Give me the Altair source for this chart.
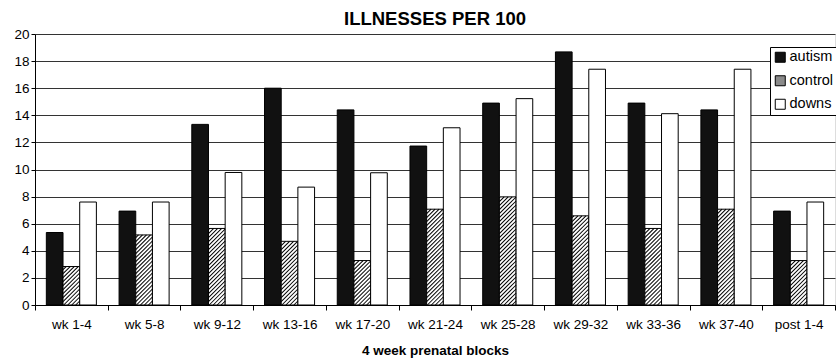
import altair as alt
import pandas as pd

blocks = ["wk 1-4", "wk 5-8", "wk 9-12", "wk 13-16", "wk 17-20", "wk 21-24",
          "wk 25-28", "wk 29-32", "wk 33-36", "wk 37-40", "post 1-4"]
series = ["autism", "control", "downs"]
autism = [5.35, 6.93, 13.33, 16.0, 14.4, 11.73, 14.9, 18.68, 14.9, 14.4, 6.93]
control = [2.84, 5.17, 5.65, 4.7, 3.28, 7.07, 7.98, 6.58, 5.65, 7.07, 3.28]
downs = [7.6, 7.6, 9.78, 8.7, 9.76, 13.08, 15.23, 17.4, 14.12, 17.4, 7.6]

FONT = "Liberation Sans"
W, H = 800, 271
PAD_OUT = 0.68
YMAX = 20
step = W / len(blocks)
bw = step / (3 + 2 * PAD_OUT)
ctrl_left = bw * (PAD_OUT + 1)
ctrl_right = bw * (PAD_OUT + 2)

rows = []
for i, b in enumerate(blocks):
    for s, vals in zip(series, [autism, control, downs]):
        rows.append({"block": b, "series": s, "group": s, "value": vals[i]})
df = pd.DataFrame(rows)

# diagonal hatch lines for the control bars, clipped to each bar's value
units_per_px = YMAX / H
dv = bw * units_per_px
spacing = 4.0 * units_per_px
hatch = []
sid = 0
for b, V in zip(blocks, control):
    c = -dv
    while c < V:
        u0 = max(0.0, -c / dv)
        u1 = min(1.0, (V - c) / dv)
        if u1 > u0:
            hatch.append({"block": b, "sid": sid, "u": u0, "v": c + u0 * dv})
            hatch.append({"block": b, "sid": sid, "u": u1, "v": c + u1 * dv})
            sid += 1
        c += spacing
hdf = pd.DataFrame(hatch)

xscale = alt.Scale(domain=blocks, paddingInner=0, paddingOuter=0)
yscale = alt.Scale(domain=[0, YMAX])


def xaxis():
    return alt.Axis(title="4 week prenatal blocks", labelAngle=0, tickBand="extent",
                    labelFont=FONT, labelFontSize=13.5, labelColor="black", labelPadding=7,
                    tickSize=5, tickColor="black", domainColor="black",
                    titleFont=FONT, titleFontSize=13.5, titleFontWeight="bold",
                    titleColor="black", titlePadding=13, grid=False)


def yaxis():
    return alt.Axis(title=None, values=list(range(0, 21, 2)), grid=True,
                    gridColor="#333333", gridWidth=1, labelFont=FONT, labelFontSize=13.5,
                    labelColor="black", labelPadding=2, tickSize=4, tickColor="black",
                    domainColor="black")


bars = alt.Chart(df).mark_bar(stroke="black", strokeWidth=1).encode(
    x=alt.X("block:N", scale=xscale, sort=blocks, axis=xaxis()),
    xOffset=alt.XOffset("series:N", sort=series,
                        scale=alt.Scale(domain=series, paddingInner=0, paddingOuter=PAD_OUT)),
    y=alt.Y("value:Q", scale=yscale, axis=yaxis(), stack=None),
    fill=alt.condition(alt.datum.series == "autism", alt.value("#111111"), alt.value("#ffffff")),
)

hatch_layer = alt.Chart(hdf).mark_line(color="black", strokeWidth=1.05).encode(
    x=alt.X("block:N", scale=xscale, sort=blocks, bandPosition=0, axis=xaxis()),
    xOffset=alt.XOffset("u:Q", scale=alt.Scale(domain=[0, 1], range=[ctrl_left, ctrl_right])),
    y=alt.Y("v:Q", scale=yscale, axis=yaxis()),
    detail="sid:N",
)

# legend only: the layer's rows are filtered away, its colour scale has an explicit domain
legend_layer = alt.Chart(df).transform_filter(alt.datum.value < 0).mark_bar(
    stroke="black", strokeWidth=1
).encode(
    x=alt.X("block:N", scale=xscale, sort=blocks, axis=xaxis()),
    y=alt.Y("value:Q", scale=yscale, axis=yaxis(), stack=None),
    color=alt.Color("group:N", scale=alt.Scale(domain=series, range=["#111111", "#8a8a8a", "#ffffff"]),
                    legend=alt.Legend(title=None, orient="none", legendX=735, legendY=13,
                                      symbolType="square", symbolSize=100, symbolOpacity=1,
                                      symbolStrokeColor="black", symbolStrokeWidth=1,
                                      labelFont=FONT, labelFontSize=14.5, labelColor="black",
                                      labelOffset=2, rowPadding=7.5, padding=3,
                                      strokeColor="black", fillColor="white")),
)

chart = alt.layer(bars, hatch_layer, legend_layer).resolve_scale(
    xOffset="independent"
).properties(
    width=W, height=H,
    autosize=alt.AutoSizeParams(type="none"),
    padding={"left": 35, "top": 34, "right": 1, "bottom": 53},
    title=alt.TitleParams("ILLNESSES PER 100", font=FONT, fontSize=18.5, fontWeight="bold",
                          color="black", anchor="middle", offset=-1),
).configure_view(strokeWidth=0).configure(background="white")

chart.save("out.html", embed_options={"renderer": "svg", "actions": False})
